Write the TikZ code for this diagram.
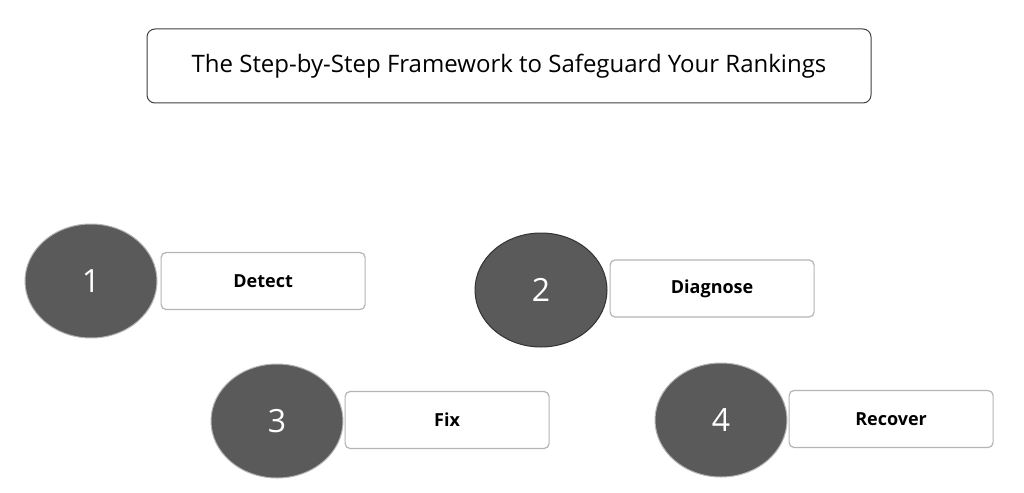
\documentclass[tikz,border=0pt]{standalone}
\usepackage{fontspec}
\setmainfont{Open Sans}
\usepackage{tikz}
\usetikzlibrary{shapes.geometric,positioning}
\definecolor{circfill}{HTML}{5A5A5A}
\definecolor{boxline}{HTML}{B4B4B4}
\tikzset{
  stepnum/.style={ellipse,fill=circfill,draw=boxline,line width=1pt,minimum width=132pt,minimum height=114pt,inner sep=0pt,text=white,font=\fontsize{32}{36}\selectfont},
  stepbox/.style={draw=boxline,line width=1.2pt,rounded corners=5pt,minimum width=204pt,minimum height=57pt,inner sep=0pt,font=\fontsize{18}{21}\selectfont\bfseries},
  titlebox/.style={draw=black!75,line width=1pt,rounded corners=8pt,minimum width=724pt,minimum height=74pt,font=\fontsize{24}{28}\selectfont}
}
\begin{document}
\begin{tikzpicture}[x=1pt,y=-1pt]
\useasboundingbox[fill=white] (0,0) rectangle (1024,492);
\node[titlebox] (title) at (509,66) {The Step-by-Step Framework to Safeguard Your Rankings};

\node[stepnum] (c1) at (91,281) {1};
\node[stepbox,right=3pt of c1] (detect) {Detect};
\node[stepnum,draw=black!80] (c2) at (541,290) {2};
\node[stepbox,right=2pt of c2,yshift=1.5pt] (diagnose) {Diagnose};
\node[stepnum] (c3) at (277,421) {3};
\node[stepbox,right=1pt of c3,yshift=1pt] (fix) {Fix};
\node[stepnum] (c4) at (721,420) {4};
\node[stepbox,right=1pt of c4,yshift=1pt] (recover) {Recover};
\end{tikzpicture}
\end{document}
